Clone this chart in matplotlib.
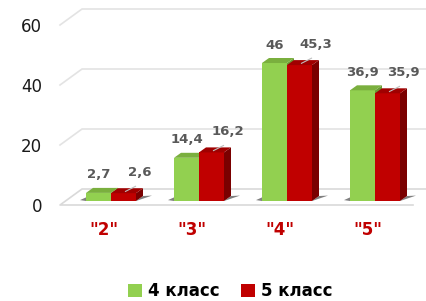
import matplotlib
matplotlib.use("Agg")
import matplotlib.pyplot as plt
from matplotlib.patches import Polygon
import numpy as np

# marks by grade and class
categories = ['"2"', '"3"', '"4"', '"5"']
class4 = [2.7, 14.4, 46, 36.9]
class5 = [2.6, 16.2, 45.3, 35.9]
series_names = ["4 класс", "5 класс"]
y_ticks = [0, 20, 40, 60]

green, green_top, green_side = "#92D050", "#7AAF3E", "#6A9A34"
red, red_top, red_side = "#C00000", "#A00000", "#7A0000"

fig = plt.figure(figsize=(4.27, 3.01), dpi=100)
ax = fig.add_axes([0, 0, 1, 1])
# x in pixel-like units, y in value units (3 px per unit)
ax.set_xlim(0, 427)
ax.set_ylim(-33.33, 67)
ax.axis("off")

# depth of the floor / wall and of the bars
fdx, fdy = 22, 16 / 3
bdx, bdy = 7, 5 / 3
front = -4 / 3

# floor
ax.plot([427, 60 + fdx, 60, 413], [front + fdy, front + fdy, front, front],
        color="#D9D9D9", lw=1.2, zorder=1)

# gridlines on the back wall with the left diagonal
for t in y_ticks[1:]:
    ax.plot([60, 60 + fdx, 427], [front + t, front + fdy + t, front + fdy + t],
            color="#E3E3E3", lw=1.2, zorder=0)
for t in y_ticks:
    ax.text(42, t - 2, str(t), ha="right", va="center", fontsize=12, color="#1A1A1A")

x0 = 86 + 88 * np.arange(len(categories))
w = 25


def bar3d(xs, vals, face, top, side, label):
    bars = ax.bar(xs, vals, width=w, align="edge", color=face, label=label, zorder=3)
    for x, h in zip(xs, vals):
        ax.add_patch(Polygon([(x + w, 0), (x + w + bdx, bdy), (x + w + bdx, h + bdy), (x + w, h)],
                             closed=True, facecolor=side, edgecolor="none", zorder=3))
        ax.add_patch(Polygon([(x, h), (x + bdx, h + bdy), (x + w + bdx, h + bdy), (x + w, h)],
                             closed=True, facecolor=top, edgecolor="none", zorder=3))
    return bars


# soft shadows on the floor
for x in x0:
    ax.add_patch(Polygon([(x - 6, 0.3), (x, 1.2), (x, 0)], closed=True,
                         facecolor="#555555", edgecolor="none", alpha=0.75, zorder=2))
    ax.add_patch(Polygon([(x + 2 * w + bdx, bdy), (x + 2 * w + bdx + 9, 1.8), (x + 2 * w, 0)],
                         closed=True, facecolor="#555555", edgecolor="none", alpha=0.75, zorder=2))

b4 = bar3d(x0, class4, green, green_top, green_side, series_names[0])
b5 = bar3d(x0 + w, class5, red, red_top, red_side, series_names[1])

for x, h in zip(x0, class4):
    ax.text(x + w / 2, h + 6, str(h).replace(".", ","), ha="center", va="center",
            fontsize=9.5, fontweight="bold", color="#595959", zorder=5)
for x, h in zip(x0 + w, class5):
    xc = x + w / 2
    ax.plot([xc + 2, xc + 12], [h + 0.6, h + 2.3], color="#BFBFBF", lw=0.8, zorder=5)
    ax.text(xc + 16, h + 7, str(h).replace(".", ","), ha="center", va="center",
            fontsize=9.5, fontweight="bold", color="#595959", zorder=5)

for x, c in zip(x0, categories):
    ax.text(x + 18, -9.7, c, ha="center", va="center", fontsize=12,
            fontweight="bold", color="#C00000")

fig.legend(handles=[b4, b5], labels=series_names, loc="center", bbox_to_anchor=(0.54, 0.033),
           ncol=2, frameon=False, prop={"weight": "bold", "size": 12},
           handlelength=0.8, handleheight=0.8, handletextpad=0.4, columnspacing=1.3)

fig.savefig("out.png", dpi=100)
